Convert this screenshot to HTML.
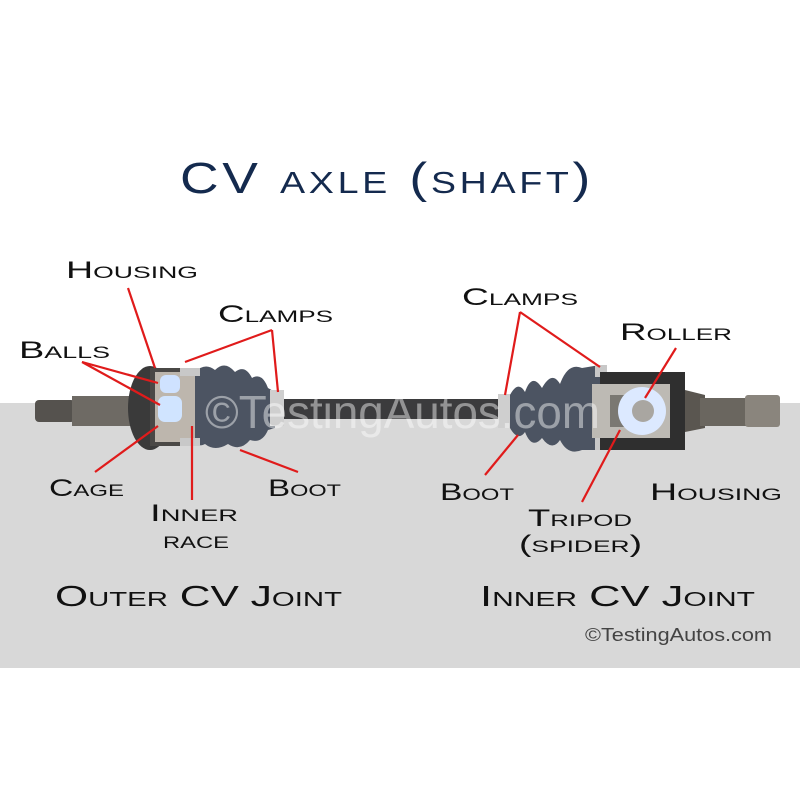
<!DOCTYPE html>
<html><head><meta charset="utf-8"><style>
body{margin:0;width:800px;height:800px;background:#fff;overflow:hidden}
svg text{font-family:"Liberation Sans",sans-serif;font-variant:small-caps}
</style></head><body>
<svg width="800" height="800" viewBox="0 0 800 800">
<rect x="0" y="403" width="800" height="265" fill="#d8d8d8"/>
<text x="180" y="193" font-size="44" fill="#142a4e" letter-spacing="3" textLength="414" lengthAdjust="spacingAndGlyphs">CV axle (shaft)</text>
<rect x="270" y="399" width="240" height="20" fill="#3b3b3d"/>
<rect x="35" y="400" width="40" height="22" rx="4" fill="#55524e"/>
<rect x="72" y="396" width="70" height="30" fill="#6e6a64"/>
<ellipse cx="150" cy="408" rx="22" ry="42" fill="#3a3a3a"/>
<rect x="150" y="368" width="50" height="78" fill="#4a4846"/>
<rect x="155" y="372" width="42" height="70" fill="#bdb6ad"/>
<rect x="160" y="375" width="20" height="18" rx="6" fill="#cfe2ff"/>
<rect x="158" y="396" width="24" height="26" rx="7" fill="#d0e4ff"/>
<path d="M195 372 Q205 362 215 370 Q225 360 235 372 Q245 364 252 378 Q262 372 268 388 L275 392 L275 428 L268 430 Q262 444 250 440 Q240 452 228 444 Q215 452 205 444 Q198 448 195 440 Z" fill="#4c5462"/>
<rect x="180" y="368" width="20" height="8" fill="#c8c8c8"/>
<rect x="180" y="438" width="20" height="8" fill="#c8c8c8"/>
<rect x="270" y="390" width="14" height="36" fill="#cfcfcf"/>
<rect x="498" y="394" width="14" height="34" fill="#cfcfcf"/>
<path d="M510 395 Q518 380 525 392 Q532 372 542 388 Q552 370 560 384 Q568 362 582 368 L600 365 L600 450 L582 450 Q568 456 560 440 Q552 452 542 438 Q532 450 525 432 Q518 442 510 428 Z" fill="#4c5462"/>
<rect x="595" y="365" width="12" height="12" fill="#c8c8c8"/>
<rect x="595" y="438" width="12" height="12" fill="#c8c8c8"/>
<rect x="600" y="372" width="85" height="78" fill="#2f2f2f"/>
<rect x="592" y="384" width="78" height="54" fill="#bdbab4"/>
<rect x="610" y="395" width="18" height="32" fill="#7a7872"/>
<circle cx="642" cy="411" r="24" fill="#dce9ff"/>
<circle cx="643" cy="411" r="11" fill="#a9a6a1"/>
<path d="M685 390 L705 395 L705 428 L685 432 Z" fill="#5a5650"/>
<rect x="700" y="398" width="50" height="28" fill="#6a665f"/>
<rect x="745" y="395" width="35" height="32" rx="3" fill="#8a857d"/>
<text x="205" y="428" font-size="46" fill="#fff" fill-opacity="0.45" style="font-variant:normal" textLength="395" lengthAdjust="spacingAndGlyphs">©TestingAutos.com</text>
<g stroke="#e01b1b" stroke-width="2.2" fill="none">
<path d="M128 288 L155 368"/>
<path d="M272 330 L185 362 M272 330 L278 392"/>
<path d="M82 362 L158 383 M82 362 L160 405"/>
<path d="M95 472 L158 426"/>
<path d="M192 500 L192 426"/>
<path d="M298 472 L240 450"/>
<path d="M520 312 L505 395 M520 312 L600 367"/>
<path d="M676 348 L645 398"/>
<path d="M485 475 L518 435"/>
<path d="M582 502 L620 430"/>
</g>
<g fill="#111" font-size="24">
<text x="66" y="278" textLength="132" lengthAdjust="spacingAndGlyphs">Housing</text>
<text x="218" y="322" textLength="115" lengthAdjust="spacingAndGlyphs">Clamps</text>
<text x="19" y="358" textLength="91" lengthAdjust="spacingAndGlyphs">Balls</text>
<text x="462" y="305" textLength="116" lengthAdjust="spacingAndGlyphs">Clamps</text>
<text x="620" y="340" textLength="112" lengthAdjust="spacingAndGlyphs">Roller</text>
<text x="49" y="496" textLength="75" lengthAdjust="spacingAndGlyphs">Cage</text>
<text x="268" y="496" textLength="73" lengthAdjust="spacingAndGlyphs">Boot</text>
<text x="150" y="521" textLength="88" lengthAdjust="spacingAndGlyphs">Inner</text>
<text x="163" y="548" textLength="66" lengthAdjust="spacingAndGlyphs">race</text>
<text x="440" y="500" textLength="74" lengthAdjust="spacingAndGlyphs">Boot</text>
<text x="650" y="500" textLength="132" lengthAdjust="spacingAndGlyphs">Housing</text>
<text x="528" y="526" textLength="104" lengthAdjust="spacingAndGlyphs">Tripod</text>
<text x="519" y="552" textLength="123" lengthAdjust="spacingAndGlyphs">(spider)</text>
<text x="55" y="606" font-size="29" textLength="287" lengthAdjust="spacingAndGlyphs">Outer CV Joint</text>
<text x="480" y="606" font-size="29" textLength="275" lengthAdjust="spacingAndGlyphs">Inner CV Joint</text>
</g>
<text x="585" y="641" font-size="18" fill="#444" style="font-variant:normal" textLength="187" lengthAdjust="spacingAndGlyphs">©TestingAutos.com</text>
</svg>
</body></html>
